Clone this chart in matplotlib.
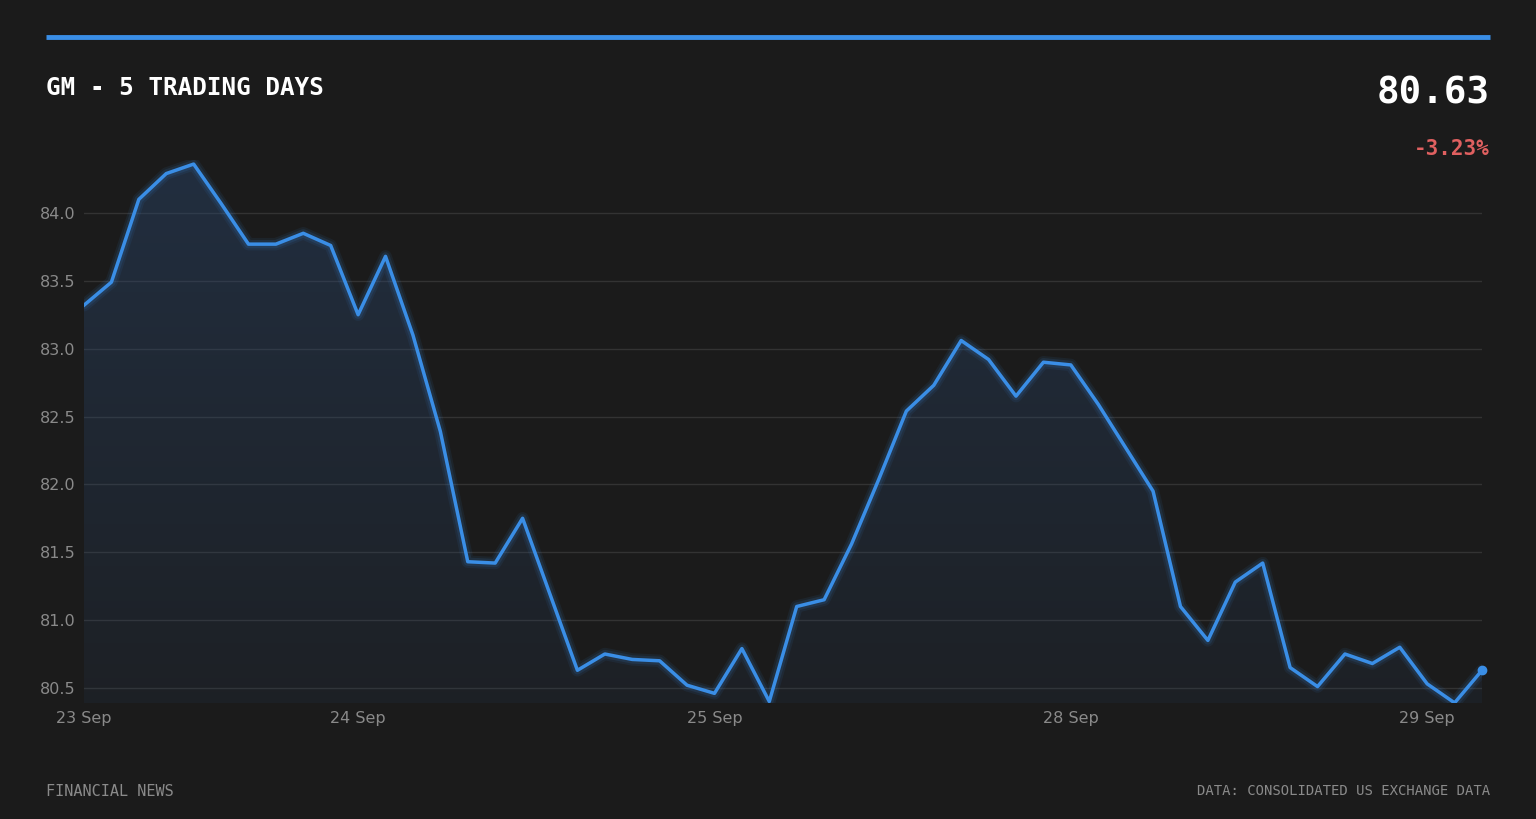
import matplotlib
matplotlib.use("Agg")
import matplotlib.pyplot as plt
import numpy as np
from matplotlib.patches import Polygon

prices = [83.32,83.49,84.10,84.29,84.36,84.07,83.77,83.77,83.85,83.76,83.25,83.68,83.10,82.39,81.43,81.42,81.75,81.19,80.63,80.75,80.71,80.70,80.52,80.46,80.79,80.40,81.10,81.15,81.56,82.04,82.54,82.73,83.06,82.92,82.65,82.90,82.88,82.59,82.27,81.95,81.10,80.85,81.28,81.42,80.65,80.51,80.75,80.68,80.80,80.53,80.39,80.63]
tick_idx = [0,10,23,36,49]
tick_labels = ["23 Sep","24 Sep","25 Sep","28 Sep","29 Sep"]
yticks = [80.5,81.0,81.5,82.0,82.5,83.0,83.5,84.0]

W,H = 1536,819
bg = "#1b1b1b"; blue = "#3a8ee6"
fig = plt.figure(figsize=(W/100,H/100), dpi=100, facecolor=bg)
ax = fig.add_axes([84/W, (H-703)/H, (1482-84)/W, (703-160)/H], facecolor=bg)
x = np.arange(len(prices))
ymin, ymax = 80.389, 84.39
ax.set_xlim(0, len(prices)-1); ax.set_ylim(ymin, ymax)
# gradient fill
verts = [(0, ymin)] + list(zip(x, prices)) + [(x[-1], ymin)]
poly = Polygon(verts, closed=True, facecolor="none", edgecolor="none")
ax.add_patch(poly)
grad = np.zeros((256,1,4))
c = np.array([0.17,0.29,0.45])
grad[:,:,:3] = c
grad[:,0,3] = np.linspace(0.12, 0.42, 256)[:,None].ravel()
im = ax.imshow(grad, aspect="auto", extent=[0, x[-1], ymin, max(prices)], origin="lower", zorder=1)
im.set_clip_path(poly)
for lw, a in [(9,0.08),(6,0.12)]:
    ax.plot(x, prices, color=blue, lw=lw, alpha=a, solid_capstyle="round", zorder=2)
ax.plot(x, prices, color=blue, lw=2.5, zorder=3, solid_joinstyle="round")
ax.plot([x[-1]],[prices[-1]], "o", color=blue, ms=6, zorder=4, clip_on=False)
ax.set_yticks(yticks)
ax.set_yticklabels([f"{v:.1f}" for v in yticks])
ax.set_xticks(tick_idx); ax.set_xticklabels(tick_labels)
ax.grid(axis="y", color="#333333", lw=1)
ax.set_axisbelow(True)
for s in ax.spines.values(): s.set_visible(False)
ax.tick_params(length=0, colors="#8a8a8a", labelsize=11.5)
ax.tick_params(axis="y", pad=6)
ax.tick_params(axis="x", pad=6)

fig.add_artist(plt.Line2D([46/W,1490/W],[(H-37)/H]*2, color=blue, lw=3.5, solid_capstyle="butt"))
mono = "DejaVu Sans Mono"
fig.text(46/W,(H-88)/H,"GM - 5 TRADING DAYS", family=mono, weight="bold", color="white", fontsize=17.5, va="center")
fig.text(1490/W,(H-93)/H,"80.63", family=mono, weight="bold", color="white", fontsize=27, va="center", ha="right")
fig.text(1490/W,(H-149)/H,"-3.23%", family=mono, weight="bold", color="#e06060", fontsize=15, va="center", ha="right")
fig.text(46/W,(H-791)/H,"FINANCIAL NEWS", family=mono, color="#8a8a8a", fontsize=11, va="center")
fig.text(1490/W,(H-791)/H,"DATA: CONSOLIDATED US EXCHANGE DATA", family=mono, color="#8a8a8a", fontsize=10, va="center", ha="right")
fig.savefig("out.png", dpi=100, facecolor=bg)
